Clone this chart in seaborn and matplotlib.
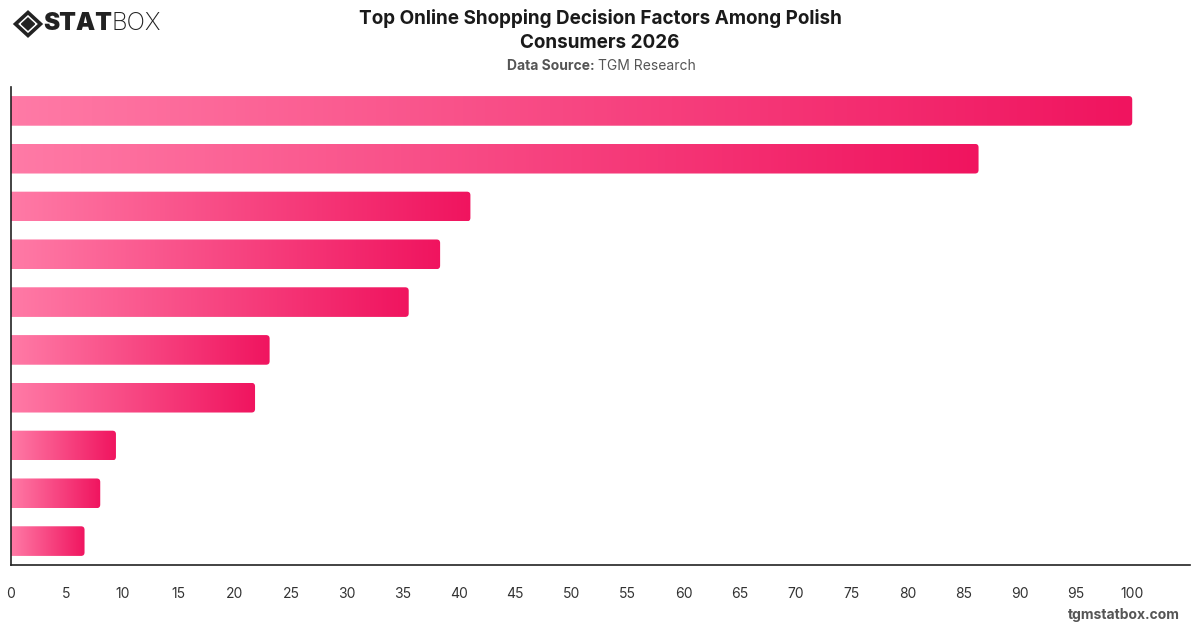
import numpy as np
import pandas as pd
import matplotlib
matplotlib.use("Agg")
import matplotlib.pyplot as plt
import seaborn as sns
from matplotlib.patches import FancyBboxPatch, Polygon
from matplotlib.colors import LinearSegmentedColormap

# ---- data ----
categories = ["Factor 1", "Factor 2", "Factor 3", "Factor 4", "Factor 5",
              "Factor 6", "Factor 7", "Factor 8", "Factor 9", "Factor 10"]
values = [100, 86.3, 41.0, 38.3, 35.5, 23.1, 21.8, 9.4, 8.0, 6.6]
x_ticks = list(range(0, 101, 5))

title = "Top Online Shopping Decision Factors Among Polish\nConsumers 2026"
source_label = "Data Source:"
source_value = "TGM Research"
footer = "tgmstatbox.com"

sns.set_style("white")
plt.rcParams["font.family"] = ["Inter", "DejaVu Sans"]

df = pd.DataFrame({"category": categories, "value": values})

fig = plt.figure(figsize=(12, 6.28), dpi=100)
ax = fig.add_axes([10.5 / 1200, 1 - 565 / 628, (1190 - 10.5) / 1200, (565 - 87) / 628])

sns.barplot(data=df, x="value", y="category", ax=ax, color="#ff75a0",
            width=0.62, orient="h")

ax.set_xlim(0, 105.15)
ax.set_ylim(9.5, -0.5)

cmap = LinearSegmentedColormap.from_list("pinkgrad", ["#ff7aa6", "#f0145f"])
grad = np.linspace(0, 1, 256).reshape(1, -1)

xpp = 105.15 / (1190 - 10.5)
ypp = 10 / (565 - 87)
aspect = ypp / xpp
for p in list(ax.patches):
    x0, y0, w, h = p.get_x(), p.get_y(), p.get_width(), p.get_height()
    p.set_visible(False)
    r = 3.5 * xpp
    clip = FancyBboxPatch((x0 - 2, y0), w + 2, h,
                          boxstyle=f"round,pad=0,rounding_size={r}",
                          mutation_aspect=aspect,
                          transform=ax.transData, facecolor="none",
                          edgecolor="none")
    ax.add_patch(clip)
    im = ax.imshow(grad, cmap=cmap, aspect="auto",
                   extent=[x0, x0 + w, y0 + h, y0], zorder=2,
                   interpolation="bicubic")
    im.set_clip_path(clip)

ax.set_xlim(0, 105.15)
ax.set_ylim(9.5, -0.5)

ax.set_xticks(x_ticks)
ax.set_xticklabels([str(t) for t in x_ticks])
ax.set_yticks([])
ax.set_xlabel("")
ax.set_ylabel("")
ax.tick_params(axis="x", length=0, pad=16, labelsize=10, labelcolor="#333333")
for s in ["top", "right"]:
    ax.spines[s].set_visible(False)
for s in ["left", "bottom"]:
    ax.spines[s].set_visible(True)
    ax.spines[s].set_color("#222222")
    ax.spines[s].set_linewidth(1.2)

# ---- titles ----
fig.text(0.5, 1 - 30.5 / 628, title, ha="center", va="center", fontsize=13.6,
         fontweight="bold", color="#1a1a1a", linespacing=1.4)
fig.text(600 / 1200 - 0.002, 1 - 66 / 628, source_label + " ", ha="right",
         va="center", fontsize=10, fontweight="bold", color="#555555")
fig.text(600 / 1200 - 0.002, 1 - 66 / 628, source_value, ha="left",
         va="center", fontsize=10, color="#555555")
fig.text(1180 / 1200, 1 - 615 / 628, footer, ha="right", va="center",
         fontsize=10, fontweight="bold", color="#555555")

# ---- logo ----
lax = fig.add_axes([0, 1 - 40 / 628, 200 / 1200, 36 / 628])
lax.set_xlim(0, 200)
lax.set_ylim(0, 36)
lax.axis("off")
cx, cy = 28, 16
outer = Polygon([(cx - 12.5, cy), (cx, cy + 11.5), (cx + 12.5, cy), (cx, cy - 11.5)],
                closed=True, facecolor="none", edgecolor="#222222", linewidth=2.6)
inner = Polygon([(cx - 6.5, cy), (cx, cy + 6), (cx + 6.5, cy), (cx, cy - 6)],
                closed=True, facecolor="#222222", edgecolor="#222222")
lax.add_patch(outer)
lax.add_patch(inner)
t1 = lax.text(43, cy, "STAT", ha="left", va="center", fontsize=17.5,
              fontweight="black", color="#222222")
fig.canvas.draw()
bb = t1.get_window_extent()
inv = lax.transData.inverted()
xend = inv.transform((bb.x1, bb.y0))[0]
lax.text(xend, cy, "BOX", ha="left", va="center", fontsize=17.5,
         fontweight="light", color="#222222")

fig.savefig("out.png", dpi=100)
